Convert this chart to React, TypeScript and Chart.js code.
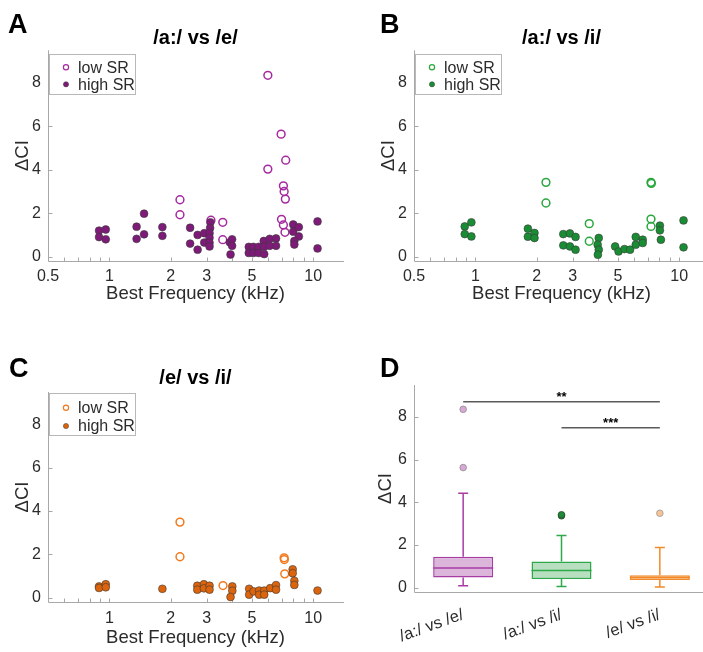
import React, { useEffect, useRef } from 'react';
import { Chart, registerables } from 'chart.js';

Chart.register(...registerables);

const FONT = "'Liberation Sans', Arial, Helvetica, sans-serif";
Chart.defaults.font.family = FONT;
Chart.defaults.color = '#2b2b2b';

// ---------------- data ----------------
// Panel A: /a:/ vs /e/
const aLowFreq = [2.22, 2.22, 3.15, 3.6, 3.6, 5.99, 5.99, 6.96, 7.33, 7.14, 7.2, 7.3, 6.99, 7.14, 7.27];
const aLowVal = [2.62, 1.93, 1.68, 1.58, 0.78, 8.35, 4.03, 5.64, 4.44, 3.26, 3.0, 2.65, 1.72, 1.46, 1.12];
const aHighFreq = [0.89, 0.89, 0.96, 0.96, 1.36, 1.36, 1.48, 1.48, 1.82, 1.82, 2.49, 2.49, 2.71, 2.71, 2.92, 2.92,
  3.13, 3.12, 3.1, 3.1, 3.1, 3.1, 3.9, 4.0, 4.0, 3.93, 4.83, 4.83, 5.08, 5.08, 5.4, 5.4, 5.72, 5.75, 5.75,
  6.12, 6.12, 6.57, 6.57, 7.98, 7.98, 8.5, 8.5, 8.08, 8.08, 10.5, 10.5];
const aHighVal = [1.2, 0.9, 1.25, 0.8, 1.38, 0.82, 1.98, 1.03, 1.36, 0.96, 1.33, 0.6, 1.0, 0.32, 1.08, 0.65,
  1.58, 1.32, 1.08, 0.87, 0.64, 0.47, 0.66, 0.8, 0.5, 0.1, 0.45, 0.17, 0.45, 0.17, 0.45, 0.17, 0.72, 0.46, 0.12,
  0.82, 0.5, 0.84, 0.5, 1.48, 1.15, 1.36, 0.93, 0.72, 0.56, 1.62, 0.38];

// Panel B: /a:/ vs /i/
const bLowFreq = [2.22, 2.22, 3.62, 3.62, 7.27, 7.3, 7.27, 7.27];
const bLowVal = [3.42, 2.47, 1.52, 0.71, 3.42, 3.37, 1.73, 1.39];
const bHighFreq = [0.887, 0.887, 0.956, 0.956, 1.81, 1.81, 1.95, 1.95, 2.7, 2.7, 2.91, 2.91, 3.1, 3.1,
  4.03, 3.98, 4.03, 3.99, 4.85, 5.04, 5.39, 5.74, 6.12, 6.12, 6.62, 6.62, 8.04, 8.04, 8.13, 10.5, 10.5];
const bHighVal = [1.39, 1.04, 1.58, 0.93, 1.29, 0.92, 1.09, 0.86, 1.04, 0.52, 1.07, 0.47, 0.91, 0.32,
  0.86, 0.55, 0.32, 0.09, 0.47, 0.24, 0.35, 0.32, 0.91, 0.55, 0.78, 0.63, 1.43, 1.21, 0.78, 1.67, 0.43];

// Panel C: /e/ vs /i/
const cLowFreq = [2.22, 2.22, 3.61, 7.2, 7.22, 7.25];
const cLowVal = [3.49, 1.89, 0.56, 1.84, 1.76, 1.1];
const cHighFreq = [0.89, 0.89, 0.96, 0.96, 1.82, 2.7, 2.7, 2.91, 2.91, 3.1, 3.1, 4.01, 4.01, 3.93, 4.85, 4.85,
  5.1, 5.43, 5.43, 5.75, 5.75, 6.15, 6.57, 6.57, 7.93, 7.93, 8.08, 8.08, 10.5];
const cHighVal = [0.52, 0.45, 0.62, 0.48, 0.41, 0.55, 0.37, 0.62, 0.43, 0.55, 0.37, 0.52, 0.32, 0.03, 0.41, 0.14,
  0.29, 0.33, 0.14, 0.33, 0.14, 0.44, 0.58, 0.37, 1.31, 1.13, 0.78, 0.59, 0.33];

// Panel D: box plots
const dCategories = ['/a:/ vs /e/', '/a:/ vs /i/', '/e/ vs /i/'];
const dWhiskerLow = [0.09, 0.06, 0.03];
const dQ1 = [0.48, 0.41, 0.36];
const dMedian = [0.92, 0.81, 0.48];
const dQ3 = [1.45, 1.23, 0.58];
const dWhiskerHigh = [4.43, 2.45, 1.89];
const dOutliers1 = [8.36, 5.63];
const dOutliers2 = [3.37, 3.42];
const dOutliers3 = [3.49];
const sigFrom = [0, 1];
const sigTo = [2, 2];
const sigLevel = [8.72, 7.5];
const sigLabel = ['**', '***'];

// ticks
const xTicksAB = [0.5, 1, 2, 3, 5, 10];
const xTicksC = [1, 2, 3, 5, 10];
const yTicks = [0, 2, 4, 6, 8];
const logMarks = [0.6, 0.7, 0.8, 0.9, 1, 2, 3, 4, 5, 6, 7, 8, 9, 10];

// ---------------- styles ----------------
const AXIS = '#a8a8a8';
const TEXT = '#2b2b2b';
const PURPLE = { fill: '#7e1a78', stroke: '#a52aa0' };
const GREEN = { fill: '#1a8c34', stroke: '#2aa83e' };
const ORANGE = { fill: '#dc640c', stroke: '#f27a1e' };
const boxFill = ['#dcb6da', '#b8e0c0', '#f8c290'];
const boxEdge = ['#a83ca5', '#2ea84a', '#f28a2a'];

const pts = (f: number[], v: number[]) => f.map((x, i) => ({ x, y: v[i] }));

function decorPlugin(cfg: any) {
  return {
    id: 'decor',
    beforeDatasetsDraw(chart: any) {
      const { ctx, chartArea: ca } = chart;
      const xs = chart.scales.x;
      const ys = chart.scales.y;
      ctx.save();
      ctx.strokeStyle = AXIS;
      ctx.lineWidth = 1;
      ctx.beginPath();
      const bx = Math.round(ca.left) + 0.5;
      const by = Math.round(ca.bottom) + 0.5;
      ctx.moveTo(bx, ca.top);
      ctx.lineTo(bx, by);
      ctx.lineTo(ca.right + 1, by);
      for (const v of yTicks) {
        const y = Math.round(ys.getPixelForValue(v)) + 0.5;
        ctx.moveTo(bx, y);
        ctx.lineTo(bx + 4, y);
      }
      for (const v of cfg.xMarks) {
        const x = Math.round(xs.getPixelForValue(v)) + 0.5;
        if (x > bx + 1 && x < ca.right) {
          ctx.moveTo(x, by);
          ctx.lineTo(x, by - 4);
        }
      }
      ctx.stroke();
      ctx.restore();
    },
    afterDatasetsDraw(chart: any) {
      if (cfg.box) cfg.box(chart);
    },
    afterDraw(chart: any) {
      const { ctx, chartArea: ca } = chart;
      ctx.save();
      ctx.fillStyle = '#000';
      ctx.font = `bold 27px ${FONT}`;
      ctx.textBaseline = 'alphabetic';
      ctx.textAlign = 'left';
      ctx.fillText(cfg.letter, cfg.lx, cfg.ly);
      if (cfg.legend) {
        const L = cfg.legend;
        const x0 = Math.round(ca.left) + 1.5;
        const y0 = Math.round(ca.top + L.top) + 0.5;
        ctx.fillStyle = '#fff';
        ctx.fillRect(x0, y0, 86, L.h);
        ctx.strokeStyle = '#b8b8b8';
        ctx.lineWidth = 1;
        ctx.strokeRect(x0, y0, 86, L.h);
        const order = ['low SR', 'high SR'];
        const rows = [L.r1, L.r2];
        order.forEach((lab, i) => {
          const ds = chart.data.datasets.find((d: any) => d.label === lab);
          const y = ca.top + rows[i];
          const mx = ca.left + 18;
          ctx.beginPath();
          ctx.arc(mx, y, 2.6, 0, Math.PI * 2);
          if (ds.open) {
            ctx.strokeStyle = ds.pointBorderColor;
            ctx.lineWidth = 1.2;
            ctx.stroke();
          } else {
            ctx.fillStyle = ds.pointBackgroundColor;
            ctx.fill();
            ctx.strokeStyle = '#3a3a3a';
            ctx.lineWidth = 0.5;
            ctx.stroke();
          }
          ctx.fillStyle = TEXT;
          ctx.font = `16px ${FONT}`;
          ctx.textBaseline = 'middle';
          ctx.fillText(lab, ca.left + 30, y + 1);
        });
      }
      ctx.restore();
    },
  };
}

function yScale(titlePad: number) {
  return {
    type: 'linear',
    min: -0.2,
    max: 9.5,
    grid: { display: false, drawTicks: false },
    border: { display: false },
    afterBuildTicks: (s: any) => {
      s.ticks = yTicks.map((v) => ({ value: v }));
    },
    afterFit: (s: any) => {
      s.width = 48;
    },
    ticks: { font: { size: 16 }, color: TEXT, padding: 7 },
    title: { display: true, text: 'ΔCI', font: { size: 18.5 }, color: TEXT, padding: { top: titlePad, bottom: 0 } },
  };
}

function scatterConfig(p: any) {
  return {
    type: 'scatter',
    data: {
      datasets: [
        {
          label: 'high SR', open: false, data: pts(p.highF, p.highV), pointRadius: 3.9,
          pointBackgroundColor: p.col.fill, pointBorderColor: '#3a3a3a', pointBorderWidth: 0.6, order: 0,
        },
        {
          label: 'low SR', open: true, data: pts(p.lowF, p.lowV), pointRadius: 3.9,
          pointBackgroundColor: 'rgba(255,255,255,0)', pointBorderColor: p.col.stroke, pointBorderWidth: 1.5, order: 1,
        },
      ],
    },
    options: {
      responsive: false,
      animation: false,
      events: [],
      layout: { padding: { left: 0, right: 9, top: 0, bottom: 0 } },
      plugins: {
        legend: { display: false },
        tooltip: { enabled: false },
        title: {
          display: true, text: p.title, fullSize: false, color: '#000',
          font: { size: 20, weight: 'bold' }, padding: p.titlePad,
        },
      },
      scales: {
        x: {
          type: 'logarithmic', min: 0.5, max: 14,
          grid: { display: false, drawTicks: false },
          border: { display: false },
          afterBuildTicks: (s: any) => {
            s.ticks = p.xTicks.map((v: number) => ({ value: v }));
          },
          afterFit: (s: any) => {
            s.height = p.xH;
          },
          ticks: { callback: (v: any) => String(v), font: { size: 16 }, color: TEXT, padding: p.xTickPad, autoSkip: false, maxRotation: 0 },
          title: { display: true, text: 'Best Frequency (kHz)', font: { size: 18.5 }, color: TEXT, padding: { top: 0, bottom: p.xTitlePad } },
        },
        y: yScale(12),
      },
    },
    plugins: [decorPlugin({ xMarks: logMarks, letter: p.letter, lx: p.lx, ly: p.ly, legend: p.legend })],
  };
}

function boxDraw(chart: any) {
  const { ctx } = chart;
  const xs = chart.scales.x;
  const ys = chart.scales.y;
  const meta = chart.getDatasetMeta(0);
  ctx.save();
  ctx.lineWidth = 1.5;
  dCategories.forEach((_, i) => {
    const x = xs.getPixelForValue(i);
    const hw = meta.data[i] ? meta.data[i].width / 2 : 30;
    ctx.strokeStyle = boxEdge[i];
    ctx.beginPath();
    ctx.moveTo(x, ys.getPixelForValue(dQ3[i]));
    ctx.lineTo(x, ys.getPixelForValue(dWhiskerHigh[i]));
    ctx.moveTo(x - 5, ys.getPixelForValue(dWhiskerHigh[i]));
    ctx.lineTo(x + 5, ys.getPixelForValue(dWhiskerHigh[i]));
    ctx.moveTo(x, ys.getPixelForValue(dQ1[i]));
    ctx.lineTo(x, ys.getPixelForValue(dWhiskerLow[i]));
    ctx.moveTo(x - 5, ys.getPixelForValue(dWhiskerLow[i]));
    ctx.lineTo(x + 5, ys.getPixelForValue(dWhiskerLow[i]));
    ctx.moveTo(x - hw, ys.getPixelForValue(dMedian[i]));
    ctx.lineTo(x + hw, ys.getPixelForValue(dMedian[i]));
    ctx.stroke();
  });
  sigFrom.forEach((f, k) => {
    const x1 = xs.getPixelForValue(f);
    const x2 = xs.getPixelForValue(sigTo[k]);
    const y = ys.getPixelForValue(sigLevel[k]);
    ctx.strokeStyle = '#5a5a5a';
    ctx.lineWidth = 1.5;
    ctx.beginPath();
    ctx.moveTo(x1, y);
    ctx.lineTo(x2, y);
    ctx.stroke();
    ctx.fillStyle = '#000';
    ctx.font = `bold 13px ${FONT}`;
    ctx.textAlign = 'center';
    ctx.textBaseline = 'alphabetic';
    ctx.fillText(sigLabel[k], (x1 + x2) / 2, y - 1);
  });
  ctx.restore();
}

function outlierSet(vals: number[], cat: number, fill: string, edge: string) {
  return {
    type: 'line', label: 'out' + cat, showLine: false,
    data: vals.map((v) => ({ x: dCategories[cat], y: v })),
    pointRadius: 3.3, pointBackgroundColor: fill, pointBorderColor: edge, pointBorderWidth: 0.8, order: 0,
  };
}

function boxConfig() {
  return {
    type: 'bar',
    data: {
      labels: dCategories,
      datasets: [
        {
          type: 'bar', label: 'box', data: dQ1.map((q, i) => [q, dQ3[i]]),
          backgroundColor: boxFill, borderColor: boxEdge, borderWidth: 1.5, borderSkipped: false,
          barPercentage: 0.61, categoryPercentage: 1, order: 2,
        },
        outlierSet(dOutliers1, 0, '#d9a8d6', '#8c8c8c'),
        outlierSet(dOutliers2, 1, '#1f8a3a', '#2a4a2a'),
        outlierSet(dOutliers3, 2, '#f7c394', '#9a9a9a'),
      ],
    },
    options: {
      responsive: false,
      animation: false,
      events: [],
      layout: { padding: { left: 0, right: 9, top: 70, bottom: 0 } },
      plugins: { legend: { display: false }, tooltip: { enabled: false }, title: { display: false } },
      scales: {
        x: {
          type: 'category', offset: true,
          grid: { display: false, drawTicks: false },
          border: { display: false },
          afterFit: (s: any) => {
            s.height = 60;
          },
          ticks: { font: { size: 16.5 }, color: TEXT, padding: 13, minRotation: 20, maxRotation: 20, autoSkip: false },
        },
        y: yScale(9),
      },
    },
    plugins: [decorPlugin({ xMarks: [], letter: 'D', lx: 14, ly: 62, box: boxDraw })],
  };
}

function Panel({ left, top, width, height, make }: any) {
  const ref = useRef<HTMLCanvasElement>(null);
  useEffect(() => {
    const chart = new Chart(ref.current as HTMLCanvasElement, make());
    return () => chart.destroy();
  }, []);
  return (
    <div style={{ position: 'absolute', left, top, width, height }}>
      <canvas ref={ref} width={width} height={height} style={{ width, height, display: 'block' }} />
    </div>
  );
}

export default function App() {
  return (
    <div style={{ position: 'absolute', left: 0, top: 0, width: 703, height: 652, overflow: 'hidden', background: '#fff' }}>
      <Panel left={0} top={0} width={352} height={310} make={() => scatterConfig({
        title: '/a:/ vs /e/', titlePad: { top: 26.3, bottom: 0 }, col: PURPLE,
        lowF: aLowFreq, lowV: aLowVal, highF: aHighFreq, highV: aHighVal,
        xTicks: xTicksAB, xH: 49, xTickPad: 6, xTitlePad: 5,
        letter: 'A', lx: 8, ly: 33, legend: { top: 4, h: 40, r1: 17, r2: 34 },
      })} />
      <Panel left={366} top={0} width={352} height={310} make={() => scatterConfig({
        title: '/a:/ vs /i/', titlePad: { top: 26.3, bottom: 0 }, col: GREEN,
        lowF: bLowFreq, lowV: bLowVal, highF: bHighFreq, highV: bHighVal,
        xTicks: xTicksAB, xH: 49, xTickPad: 6, xTitlePad: 5,
        letter: 'B', lx: 14, ly: 33, legend: { top: 4, h: 40, r1: 17, r2: 34 },
      })} />
      <Panel left={0} top={315} width={352} height={337} make={() => scatterConfig({
        title: '/e/ vs /i/', titlePad: { top: 51.3, bottom: 1.7 }, col: ORANGE,
        lowF: cLowFreq, lowV: cLowVal, highF: cHighFreq, highV: cHighVal,
        xTicks: xTicksC, xH: 50, xTickPad: 6.5, xTitlePad: 2.5,
        letter: 'C', lx: 9, ly: 62, legend: { top: 1, h: 42, r1: 15.7, r2: 34 },
      })} />
      <Panel left={366} top={315} width={352} height={337} make={boxConfig} />
    </div>
  );
}
